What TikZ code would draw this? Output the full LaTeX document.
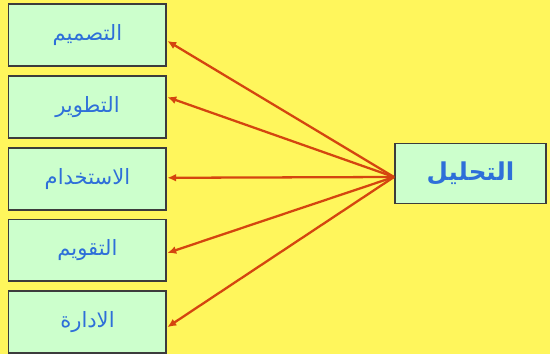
\documentclass[tikz,border=0pt]{standalone}
\usepackage{fontspec}
\newfontfamily\arabicfont[Script=Arabic]{DejaVu Sans}
\TeXXeTstate=1
\usepackage{xcolor}
\definecolor{bgyellow}{HTML}{FFF65C}
\definecolor{boxgreen}{HTML}{CCFFCC}
\definecolor{boxline}{HTML}{3C3C3C}
\definecolor{textblue}{HTML}{2E6FD9}
\definecolor{arrowred}{HTML}{D4450F}
\usetikzlibrary{positioning,arrows.meta}

\begin{document}
\begin{tikzpicture}[x=0.02cm,y=-0.02cm,node distance=0.155cm,
    stage/.style={rectangle,draw=boxline,line width=1.1pt,fill=boxgreen,minimum width=3.16cm,minimum height=1.24cm,inner sep=0pt,text=textblue,font=\arabicfont\fontsize{12}{14}\selectfont},
    link/.style={draw=arrowred,line width=1.3pt,-{Latex[length=5pt,width=4.5pt]}}]
                % background and margins
                \fill[bgyellow] (0,0) rectangle (550,354);
                \useasboundingbox (0,0) rectangle (550,354);
                % the five stages on the left
                \node[stage,anchor=north west] (s1) at (7.5,3.5) {\beginR التصميم\endR};
                \node[stage,below=of s1] (s2) {\beginR التطوير\endR};
                \node[stage,below=of s2] (s3) {\beginR الاستخدام\endR};
                \node[stage,below=of s3] (s4) {\beginR التقويم\endR};
                \node[stage,below=of s4] (s5) {\beginR الادارة\endR};
                % analysis box on the right
                \node[stage,anchor=west,minimum width=3.02cm,minimum height=1.2cm,font=\arabicfont\bfseries\fontsize{14}{16}\selectfont] (an) at (394,173.5) {\beginR التحليل\endR};
                % arrows
                \coordinate (src) at ([yshift=-0.07cm]an.west);
                \draw[link] (src) -- ([yshift=-0.11cm]s1.east);
                \draw[link] (src) -- ([yshift=0.2cm]s2.east);
                \draw[link] (src) -- ([yshift=0.02cm]s3.east);
                \draw[link] (src) -- ([yshift=-0.05cm]s4.east);
                \draw[link] (src) -- ([yshift=-0.1cm]s5.east);
\end{tikzpicture}
\end{document}
